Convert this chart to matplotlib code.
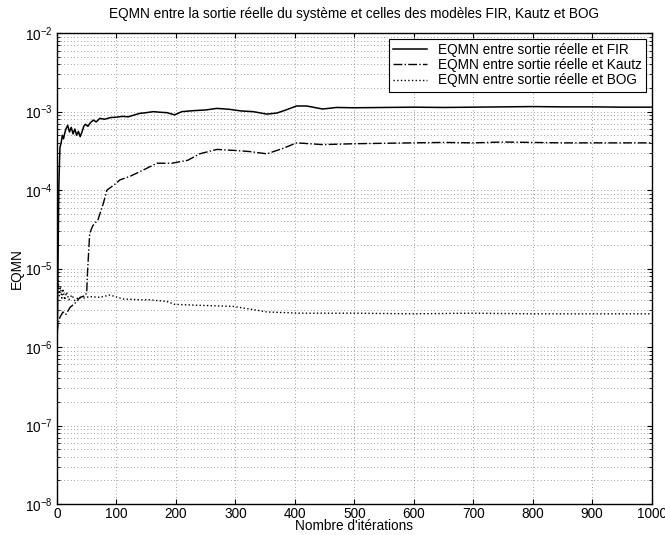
import numpy as np
import matplotlib.pyplot as plt

plt.rcParams['font.family'] = ['Liberation Sans', 'DejaVu Sans']
plt.rcParams['font.size'] = 9.8

# EQMN curves (iteration, value)
fir_it = [0, 1, 2, 3, 4, 5, 7, 9, 11, 13, 15, 18, 21, 24, 27, 30, 33, 36, 39, 42, 45, 48,
          52, 56, 61, 66, 72, 80, 90, 100, 110, 120, 139, 150, 162, 175, 185, 198, 210,
          230, 250, 269, 290, 310, 330, 353, 370, 385, 403, 420, 447, 470, 500, 550, 600,
          650, 700, 750, 800, 850, 900, 950, 1000]
fir_val = [7e-7, 3e-6, 2e-5, 1e-4, 2e-4, 3.5e-4, 4e-4, 5e-4, 4.5e-4, 5.3e-4, 6e-4, 6.7e-4,
           5.5e-4, 6.3e-4, 5.2e-4, 6e-4, 5e-4, 5.6e-4, 4.8e-4, 5.5e-4, 6.5e-4, 6.9e-4,
           6.5e-4, 7.2e-4, 7.8e-4, 7.4e-4, 8.2e-4, 8e-4, 8.4e-4, 8.5e-4, 8.7e-4, 8.6e-4,
           9.5e-4, 9.7e-4, 1.0e-3, 9.8e-4, 9.7e-4, 9.1e-4, 1.0e-3, 1.03e-3, 1.05e-3, 1.1e-3,
           1.07e-3, 1.02e-3, 1.0e-3, 9.3e-4, 9.6e-4, 1.05e-3, 1.18e-3, 1.18e-3, 1.08e-3,
           1.13e-3, 1.12e-3, 1.13e-3, 1.14e-3, 1.13e-3, 1.14e-3, 1.15e-3, 1.16e-3, 1.15e-3,
           1.15e-3, 1.14e-3, 1.14e-3]

kautz_it = [0, 2, 5, 10, 15, 22, 30, 39, 47, 50, 51, 53, 55, 60, 69, 78, 84, 95, 106, 123,
            145, 168, 193, 220, 240, 269, 300, 324, 353, 380, 403, 447, 500, 550, 600, 650,
            700, 750, 800, 850, 900, 950, 1000]
kautz_val = [1.5e-6, 2e-6, 2.4e-6, 2.8e-6, 2.6e-6, 3.2e-6, 3.6e-6, 4.3e-6, 4.5e-6, 4.9e-6,
             8e-6, 1.5e-5, 2.8e-5, 3.5e-5, 4.2e-5, 6.8e-5, 1e-4, 1.15e-4, 1.35e-4, 1.5e-4,
             1.8e-4, 2.2e-4, 2.2e-4, 2.4e-4, 2.9e-4, 3.3e-4, 3.2e-4, 3.1e-4, 2.9e-4, 3.4e-4,
             4.0e-4, 3.8e-4, 3.9e-4, 3.95e-4, 4.0e-4, 4.05e-4, 4.0e-4, 4.1e-4, 4.05e-4,
             4.0e-4, 4.0e-4, 4.0e-4, 4.0e-4]

bog_it = [0, 2, 4, 6, 8, 10, 13, 16, 20, 25, 30, 36, 44, 55, 72, 89, 111, 140, 156, 185,
          198, 240, 296, 330, 353, 408, 450, 500, 600, 700, 800, 900, 1000]
bog_val = [5e-6, 7e-6, 4.5e-6, 6e-6, 4.2e-6, 5.5e-6, 4e-6, 5e-6, 4e-6, 4.6e-6, 3.9e-6,
           4.3e-6, 4.2e-6, 4.4e-6, 4.3e-6, 4.6e-6, 4.1e-6, 4.0e-6, 4.0e-6, 3.8e-6, 3.5e-6,
           3.4e-6, 3.3e-6, 3.0e-6, 2.8e-6, 2.7e-6, 2.7e-6, 2.7e-6, 2.65e-6, 2.7e-6, 2.65e-6,
           2.65e-6, 2.65e-6]

labels = ['EQMN entre sortie réelle et FIR',
          'EQMN entre sortie réelle et Kautz',
          'EQMN entre sortie réelle et BOG']

fig = plt.figure(figsize=(6.65, 5.35), dpi=100)
ax = fig.add_axes([0.0857, 0.058, 0.894, 0.880])

ax.semilogy(fir_it, fir_val, 'k-', lw=1.1, label=labels[0])
ax.semilogy(kautz_it, kautz_val, 'k-.', lw=1.0, label=labels[1])
ax.semilogy(bog_it, bog_val, 'k:', lw=1.0, label=labels[2])

ax.set_xlim(0, 1000)
ax.set_ylim(1e-8, 1e-2)
ax.set_xticks(np.arange(0, 1001, 100))

grid_style = dict(linestyle=(0, (1, 3)), color='0.5', lw=0.6)
ax.grid(True, which='major', **grid_style)
ax.grid(True, which='minor', axis='y', **grid_style)
ax.tick_params(which='both', direction='in', top=True, right=True, pad=3)
ax.tick_params(axis='x', pad=2)
for s in ax.spines.values():
    s.set_linewidth(1.0)

ax.set_xlabel("Nombre d'itérations", labelpad=-1)
ax.set_ylabel('EQMN', labelpad=1)
ax.set_title('EQMN entre la sortie réelle du système et celles des modèles FIR, Kautz et BOG',
             fontsize=9.8, pad=11)

leg = ax.legend(loc='upper right', fancybox=False, framealpha=1, edgecolor='k',
                handlelength=2.5, borderaxespad=0.4, labelspacing=0.1, borderpad=0.3)
leg.get_frame().set_linewidth(0.8)

fig.savefig('out.png', dpi=100)
